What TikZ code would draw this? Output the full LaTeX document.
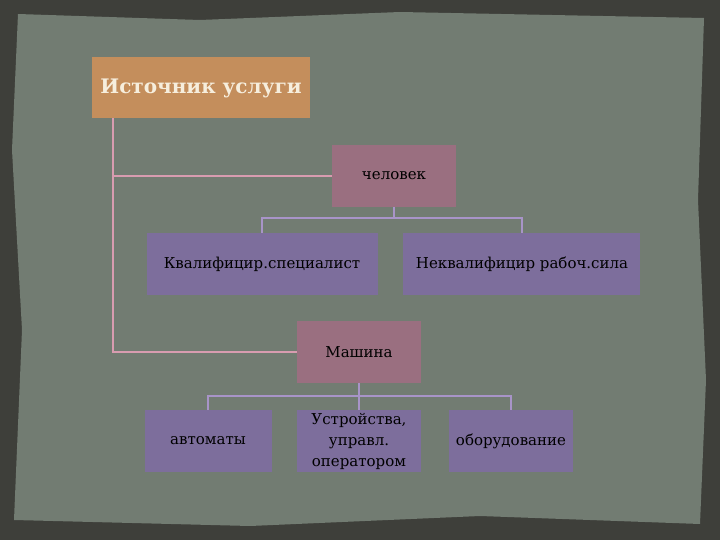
\documentclass[tikz,border=0pt]{standalone}
\usepackage{fontspec}
\setmainfont{DejaVu Serif}
\definecolor{outer}{HTML}{3E3F3A}
\definecolor{panel}{HTML}{727C72}
\definecolor{orangebox}{HTML}{C48E5C}
\definecolor{pinkbox}{HTML}{9A6F80}
\definecolor{purplebox}{HTML}{7D6E9C}
\definecolor{pinkline}{HTML}{D89CB0}
\definecolor{purpleline}{HTML}{A894C8}
\definecolor{titletext}{HTML}{F6EEDD}
\begin{document}
\begin{tikzpicture}[x=1pt,y=-1pt,
  box/.style={draw=none,inner sep=0pt,align=center,text=black,font=\fontsize{15}{21}\selectfont},
  pline/.style={draw=pinkline,line width=2pt},
  vline/.style={draw=purpleline,line width=2pt}]
\fill[outer] (0,0) rectangle (720,540);
\fill[panel] (18,14) -- (200,20) -- (400,12) -- (704,18) -- (698,200) -- (706,380) -- (700,524) -- (480,516) -- (250,526) -- (14,520) -- (22,330) -- (12,150) -- cycle;
% boxes
\fill[orangebox] (92,57) rectangle (310,118);
\node[box,font=\bfseries\fontsize{20}{24}\selectfont,text=titletext] (src) at (201,88) {Источник услуги};
\coordinate (srcb) at (113,118);
\fill[pinkbox] (332,145) rectangle (456,207);
\node[box] (hum) at (394,176) {человек};
\fill[purplebox] (147,233) rectangle (378,295);
\node[box] (kv) at (262,264) {Квалифицир.специалист};
\fill[purplebox] (403,233) rectangle (640,295);
\node[box] (nkv) at (522,264) {Неквалифицир рабоч.сила};
\fill[pinkbox] (297,321) rectangle (421,383);
\node[box] (mash) at (359,352) {Машина};
\fill[purplebox] (145,410) rectangle (272,472);
\node[box] (avt) at (208,441) {автоматы};
\fill[purplebox] (297,410) rectangle (421,472);
\node[box] (ustr) at (359,441) {Устройства,\\управл.\\оператором};
\fill[purplebox] (449,410) rectangle (573,472);
\node[box] (obor) at (511,441) {оборудование};
% connectors
\coordinate (hl) at (332,176);
\coordinate (ml) at (297,352);
\draw[pline] (srcb) -- (113,352) -- (ml);
\draw[pline] (113,176) -- (hl);
\draw[vline] (394,207) -- (394,218);
\draw[vline] (262,233) -- (262,218) -- (522,218) -- (522,233);
\draw[vline] (359,383) -- (359,396);
\draw[vline] (208,410) -- (208,396) -- (511,396) -- (511,410);
\draw[vline] (359,396) -- (359,410);
\end{tikzpicture}
\end{document}
